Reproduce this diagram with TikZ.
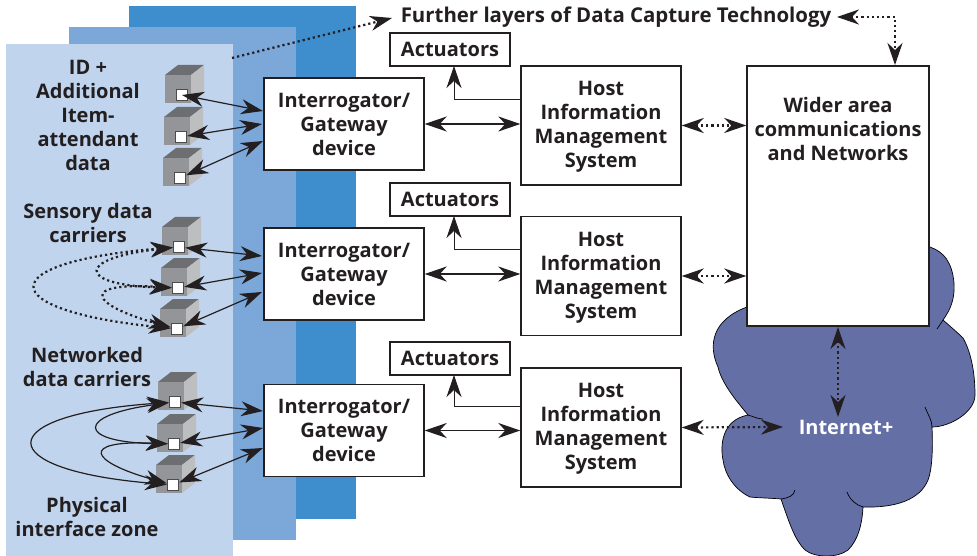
\documentclass[tikz,border=0pt]{standalone}
\usepackage{fontspec}
\setmainfont{Open Sans}
\usetikzlibrary{arrows.meta}

\definecolor{layerone}{HTML}{C1D4ED}
\definecolor{layertwo}{HTML}{7BA7D9}
\definecolor{layerthree}{HTML}{3E8ECE}
\definecolor{cloudblue}{HTML}{646FA6}
\definecolor{inkblack}{HTML}{231F20}
\definecolor{cubefront}{HTML}{939598}
\definecolor{cubetop}{HTML}{6D6E71}
\definecolor{cubeside}{HTML}{BCBEC0}

\tikzset{
  box/.style={draw=inkblack, fill=white, line width=1.4pt, align=center, inner sep=0pt, text=inkblack},
  plaintext/.style={align=center, inner sep=0pt, text=inkblack},
  port/.style={draw=black!70, fill=white, line width=1.4pt, minimum size=11pt, inner sep=0pt},
  link/.style={draw=inkblack, line width=1.2pt, {Stealth[length=22pt,width=15pt,inset=7pt]}-{Stealth[length=22pt,width=15pt,inset=7pt]}},
  uplink/.style={draw=inkblack, line width=0.8pt, -{Stealth[length=22pt,width=15pt,inset=7pt]}},
  dotlink/.style={link, line width=2.2pt, dash pattern=on 2.2pt off 3pt},
}

% one data carrier: cube with its port in front
\newcommand{\carrier}[3]{
  \fill[cubetop] (#2,#3) -- ++(13,-10) -- ++(26,0) -- ++(-13,10) -- cycle;
  \fill[cubeside] (#2+26,#3) -- ++(13,-10) -- ++(0,28) -- ++(-13,10) -- cycle;
  \fill[cubefront] (#2,#3) rectangle ++(26,28);
  \node[port] (#1) at (#2+17,#3+20) {};
}

\begin{document}
\begin{tikzpicture}[x=1pt,y=-1pt,font=\fontsize{20}{24}\selectfont\bfseries]
    \useasboundingbox (0,0) rectangle (977,556);

    % layers
    \fill[layerthree] (129,6) rectangle (356,519);
    \fill[layertwo] (69,27) rectangle (296,540);
    \fill[layerone] (6,44) rectangle (233,556);

    % cloud
    \draw[fill=cloudblue, draw=black, line width=0.7pt] (747,307) -- (800,260) -- (930,247)
      .. controls (944,252) and (952,262) .. (954,283)
      .. controls (955,300) and (950,310) .. (943,320)
      .. controls (952,328) and (958,333) .. (963,338)
      .. controls (970,350) and (975,370) .. (975,395)
      .. controls (975,412) and (950,427) .. (932,427)
      .. controls (933,450) and (932,470) .. (928,480)
      .. controls (920,500) and (895,508) .. (863,507)
      .. controls (862,525) and (858,540) .. (848,550)
      .. controls (838,558) and (815,558) .. (805,550)
      .. controls (795,540) and (790,525) .. (781,499)
      .. controls (770,498) and (760,498) .. (750,497)
      .. controls (735,490) and (725,475) .. (723,460)
      .. controls (720,445) and (722,420) .. (748,415)
      .. controls (740,405) and (722,385) .. (718,367)
      .. controls (708,345) and (712,320) .. (747,307) -- cycle;
    \draw[line width=0.7pt] (925,407) .. controls (928,415) and (932,420) .. (932,427);
    \draw[line width=0.7pt] (847,492) .. controls (850,500) and (856,505) .. (863,507);
    \draw[line width=0.7pt] (795,490) .. controls (794,496) and (788,498) .. (781,499);
    \draw[line width=0.7pt] (748,415) .. controls (755,417) and (758,419) .. (763,419);
    \draw[line width=0.7pt] (937,329) -- (943,320);
    \node[text=white, inner sep=0pt] (inet) at (846,427) {Internet+};

    % texts of the zone
    \node[plaintext] (idtext) at (88,115) {ID +\\Additional\\Item-\\attendant\\data};
    \node[plaintext] (sensortext) at (88,223) {Sensory data\\carriers};
    \node[plaintext] (nettext) at (87,367) {Networked\\data carriers};
    \node[plaintext] (zonetext) at (87,517) {Physical\\interface zone};

    % carriers
    \carrier{p1}{165}{75}
    \carrier{p2}{164}{117}
    \carrier{p3}{163}{158}
    \carrier{p4}{162}{227}
    \carrier{p5}{161}{268}
    \carrier{p6}{160}{309}
    \carrier{p7}{158}{382}
    \carrier{p8}{157}{424}
    \carrier{p9}{156}{465}

    % gateways
    \node[box, minimum width=160pt, minimum height=92pt] (gw1) at (344,124) {Interrogator/\\Gateway\\device};
    \node[box, minimum width=160pt, minimum height=92pt] (gw2) at (344,274) {Interrogator/\\Gateway\\device};
    \node[box, minimum width=160pt, minimum height=92pt] (gw3) at (344,430.5) {Interrogator/\\Gateway\\device};

    % hosts
    \node[box, minimum width=160pt, minimum height=119pt] (host1) at (601,125.5) {\rule{0pt}{17pt}Host\\Information\\Management\\System};
    \node[box, minimum width=160pt, minimum height=119pt] (host2) at (601,276) {\rule{0pt}{17pt}Host\\Information\\Management\\System};
    \node[box, minimum width=160pt, minimum height=119pt] (host3) at (601,427.5) {\rule{0pt}{17pt}Host\\Information\\Management\\System};

    % actuators
    \node[box, minimum width=120pt, minimum height=33pt] (act1) at (450,49.5) {Actuators};
    \node[box, minimum width=120pt, minimum height=33pt] (act2) at (450,199.5) {Actuators};
    \node[box, minimum width=120pt, minimum height=33pt] (act3) at (450,358.5) {Actuators};

    % networks
    \node[box, minimum width=182pt, minimum height=260pt] (wider) at (838,196) {};
    \node[plaintext] (widertext) at (838,129) {Wider area\\communications\\and Networks};
    \node[plaintext, font=\fontsize{20.4}{24}\selectfont\bfseries] (further) at (616,17) {Further layers of Data Capture Technology};

    % free ends
    \coordinate (zonecorner) at (232,58);
    \coordinate (furtherin) at (392,18);
    \coordinate (furtherout) at (837,17);
    \coordinate (widertop) at (895,65);
    \coordinate (inetleft) at (783,427);
    \coordinate (inettop) at (838,417);
    \coordinate (widerbottom) at (838,327);

    % carriers - gateways
    \draw[link] (p1.center) -- (263,111);
    \draw[link] (p2) -- (262,124);
    \draw[link] (p3) -- (263,141);
    \draw[link] (p4) -- (262,256);
    \draw[link] (p5) -- (262,273);
    \draw[link] (p6) -- (262,292);
    \draw[link] (p7) -- (263,411);
    \draw[link] (p8) -- (263,428);
    \draw[link] (p9) -- (263,448);

    % sensory carriers
    \draw[dotlink] (p4) .. controls (-8,262) and (-8,310) .. (p6);
    \draw[dotlink] (p4) .. controls (76,258) and (76,285) .. (p5);
    \draw[dotlink] (p5) .. controls (78,282) and (90,305) .. (p6);

    % networked carriers
    \draw[link] (p7) .. controls (-10,415) and (-10,470) .. (p9);
    \draw[link] (p7) .. controls (76,415) and (76,442) .. (p8);
    \draw[link] (p8) .. controls (78,440) and (90,462) .. (p9);

    % gateways - hosts
    \draw[link] (gw1) -- (gw1 -| host1.west);
    \draw[link] (gw2) -- (gw2 -| host2.west);
    \draw[link] (gw3) -- (gw3 -| host3.west);

    % hosts - actuators
    \draw[uplink] (host1.west |- 0,99) -| (454,66);
    \draw[uplink] (host2.west |- 0,249) -| (454,216);
    \draw[uplink] (host3.west |- 0,406) -| (454,375);

    % hosts - networks
    \draw[dotlink] (host1.east) -- (wider.west |- host1.east);
    \draw[dotlink] (host2.east) -- (wider.west |- host2.east);
    \draw[dotlink] (host3.east) -- (inetleft);
    \draw[dotlink] (widerbottom) -- (inettop);

    % further layers
    \draw[dotlink, arrows=-{Stealth[length=22pt,width=15pt,inset=7pt]}] (zonecorner) -- (furtherin);
    \draw[dotlink] (furtherout) -| (widertop);
\end{tikzpicture}
\end{document}
